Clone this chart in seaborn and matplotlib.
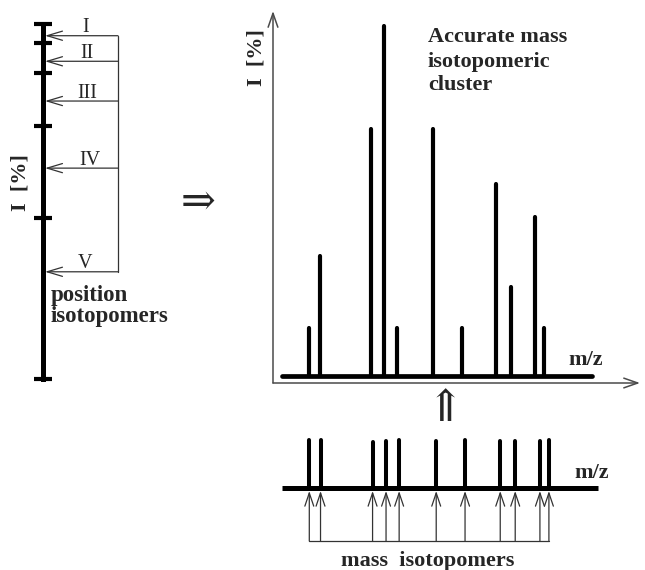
import numpy as np
import pandas as pd
import matplotlib
matplotlib.use("Agg")
import matplotlib.pyplot as plt
import seaborn as sns

# ---------------- data ----------------
mz = [9.8, 12.8, 26.7, 30.3, 33.8, 43.7, 51.4, 60.8, 64.8, 71.4, 73.8]
intensity = [13.7, 34.3, 70.6, 100.0, 13.7, 70.6, 13.7, 54.9, 25.4, 45.4, 13.7]
mass_iso_height = [48, 48, 46, 47, 48, 47, 48, 47, 47, 47, 48]
baseline_range = [2.5, 86.9]
position_labels = ["I", "II", "III", "IV", "V"]
position_levels = [96.7, 89.5, 78.3, 59.4, 30.2]
position_ticks = [100, 94.6, 86.2, 71.3, 45.4, 0]

sns.set_theme(style="white")
plt.rcParams["font.family"] = ["Liberation Serif", "DejaVu Serif", "DejaVu Sans"]

W, H = 645, 570
fig = plt.figure(figsize=(W / 100, H / 100), dpi=100)


def rect(x0, y0, x1, y1):
    """pixel box (top-left origin) -> figure fraction rect"""
    return [x0 / W, 1 - y1 / H, (x1 - x0) / W, (y1 - y0) / H]


AX_COL = "#4a4a4a"
THIN = "#333333"

# ---------------- overlay (text) ----------------
ov = fig.add_axes([0, 0, 1, 1], zorder=0)
ov.set_xlim(0, W)
ov.set_ylim(H, 0)
ov.axis("off")

# ---------------- main spectrum ----------------
ax = fig.add_axes(rect(273, 11, 640, 383), zorder=2)
ax.patch.set_alpha(0)

rows = []
for i, (m, v) in enumerate(zip(mz, intensity)):
    rows.append({"mz": m, "I": 0.0, "peak": i})
    rows.append({"mz": m, "I": v, "peak": i})
df_main = pd.DataFrame(rows)
sns.lineplot(data=df_main, x="mz", y="I", units="peak", estimator=None, sort=False,
             color="black", lw=3.0, solid_capstyle="round", ax=ax, legend=False)
sns.lineplot(x=baseline_range, y=[0, 0], color="black", lw=3.4,
             solid_capstyle="round", ax=ax, legend=False)
ax.set_xlim(0, 100)
ax.set_ylim(-2, 104.3)
for s in ax.spines.values():
    s.set_visible(False)
ax.set_xlabel("")
ax.set_ylabel("")
ax.set_xticks([])
ax.set_yticks([])

axis_arrow = dict(arrowstyle="->,head_length=1.0,head_width=0.35", lw=1.1,
                  color=AX_COL, shrinkA=0, shrinkB=0, mutation_scale=10)
ax.annotate("", xy=(1, 0), xytext=(0, 0), xycoords="axes fraction",
            arrowprops=axis_arrow)
ax.annotate("", xy=(0, 1), xytext=(0, 0), xycoords="axes fraction",
            arrowprops=axis_arrow)

# ---------------- mass isotopomers (bottom) ----------------
bx = fig.add_axes(rect(272.6, 425, 272.6 + 374.4, 560), zorder=2)
rows = []
for i, (m, v) in enumerate(zip(mz, mass_iso_height)):
    rows.append({"mz": m, "h": 0.0, "peak": i})
    rows.append({"mz": m, "h": v, "peak": i})
df_b = pd.DataFrame(rows)
sns.lineplot(data=df_b, x="mz", y="h", units="peak", estimator=None, sort=False,
             color="black", lw=2.9, solid_capstyle="round", ax=bx, legend=False)
sns.lineplot(x=baseline_range, y=[0, 0], color="black", lw=3.6,
             solid_capstyle="butt", ax=bx, legend=False)
bx.set_xlim(0, 100)
bx.set_ylim(-72, 63)
bx.axis("off")
small_arrow = dict(arrowstyle="->,head_length=0.95,head_width=0.32", lw=0.9,
                   color=THIN, shrinkA=0, shrinkB=0, mutation_scale=10)
for m in mz:
    bx.annotate("", xy=(m, -3), xytext=(m, -53), xycoords="data",
                arrowprops=small_arrow)
bx.plot([mz[0], mz[-1]], [-53, -53], color=THIN, lw=0.9)

# ---------------- position isotopomers (left) ----------------
lx = fig.add_axes(rect(0, 24, 130, 379), zorder=2)
lx.set_xlim(0, 130)
lx.set_ylim(0, 100)
lx.patch.set_alpha(0)
for k in ["top", "right", "bottom"]:
    lx.spines[k].set_visible(False)
lx.spines["left"].set_position(("data", 42.7))
lx.spines["left"].set_linewidth(3.6)
lx.spines["left"].set_color("black")
lx.set_xticks([])
lx.set_yticks(position_ticks)
lx.set_yticklabels([])
lx.tick_params(axis="y", direction="inout", length=13, width=3.0, color="black",
               left=True)
for lvl in position_levels:
    lx.annotate("", xy=(45, lvl), xytext=(118, lvl), xycoords="data",
                arrowprops=dict(arrowstyle="->,head_length=1.1,head_width=0.33",
                                lw=0.9, color=THIN, shrinkA=0, shrinkB=0,
                                mutation_scale=10))
lx.plot([118, 118], [position_levels[0], position_levels[-1]], color=THIN, lw=0.9)
label_x = [86, 87, 87, 90, 85]
for lab, lvl, xx in zip(position_labels, position_levels, label_x):
    lx.annotate(lab, xy=(xx, lvl), xytext=(0, 2.5), textcoords="offset points",
                ha="center", va="baseline", fontsize=14.5)

# ---------------- texts ----------------
bold = dict(fontweight="bold", fontsize=16)
ov.text(20, 183, "I  [%]", rotation=90, ha="center", va="center", **bold)
ov.text(257, 58, "I  [%]", rotation=90, ha="center", va="center", **bold)
ov.text(51, 300.7, "position", ha="left", va="baseline", fontweight="bold", fontsize=16.5)
ov.text(51, 321.7, "isotopomers", ha="left", va="baseline", fontweight="bold", fontsize=16.5)
ov.text(428, 41.7, "Accurate mass", ha="left", va="baseline", **bold)
ov.text(428, 66.5, "isotopomeric", ha="left", va="baseline", **bold)
ov.text(428, 90.5, "cluster", ha="left", va="baseline", **bold)
ov.text(586, 360, "m/z", ha="center", va="center", **bold)
ov.text(592, 473, "m/z", ha="center", va="center", **bold)
ov.text(428, 566, "mass  isotopomers", ha="center", va="baseline", **bold)
ov.text(198, 203, "\u21D2", ha="center", va="center", fontsize=30)
ov.text(445, 410, "\u21D1", ha="center", va="center", fontsize=32)

fig.savefig("out.png", dpi=100)
